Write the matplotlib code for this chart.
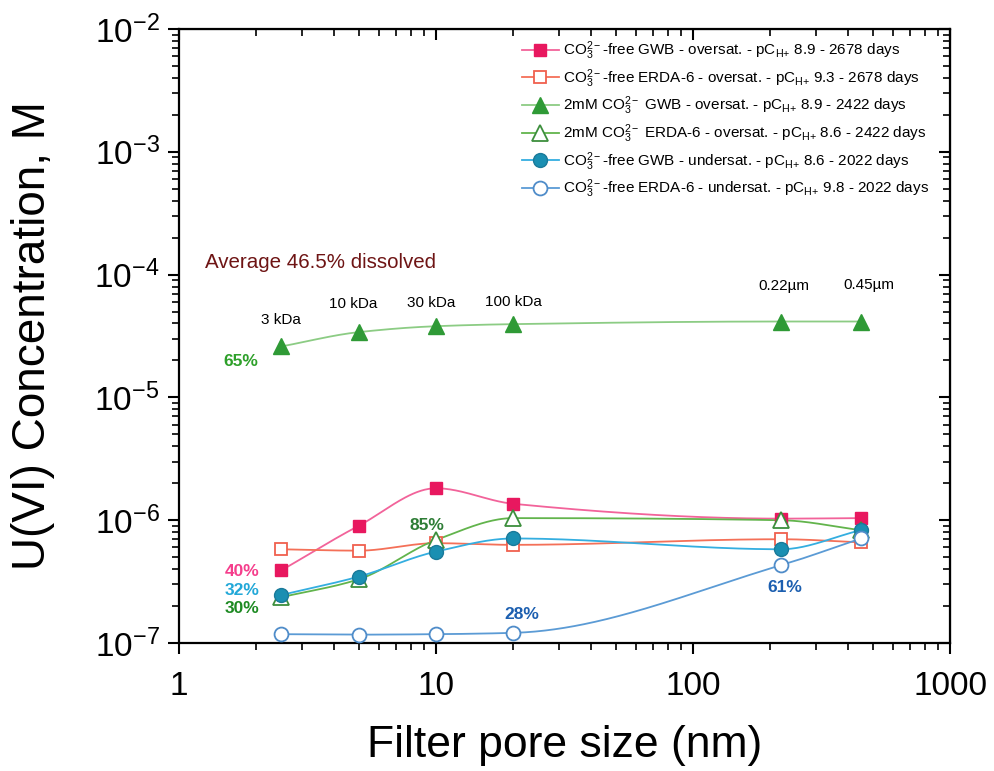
import matplotlib
matplotlib.use("Agg")
import matplotlib.pyplot as plt
import matplotlib.ticker as mticker
import numpy as np

plt.rcParams["font.family"] = ["Liberation Sans", "DejaVu Sans"]
plt.rcParams["mathtext.fontset"] = "custom"
plt.rcParams["mathtext.rm"] = "Liberation Sans"
plt.rcParams["mathtext.it"] = "Liberation Sans:italic"
plt.rcParams["mathtext.bf"] = "Liberation Sans:bold"
plt.rcParams["axes.unicode_minus"] = False

# filter pore sizes (nm): 3 kDa, 10 kDa, 30 kDa, 100 kDa, 0.22 um, 0.45 um
pore_nm = [2.5, 5, 10, 20, 220, 450]
pore_names = ["3 kDa", "10 kDa", "30 kDa", "100 kDa", "0.22µm", "0.45µm"]

# U(VI) concentration, M
gwb_free_over = [3.9e-7, 9.0e-7, 1.82e-6, 1.36e-6, 1.03e-6, 1.04e-6]
erda_free_over = [5.8e-7, 5.65e-7, 6.5e-7, 6.3e-7, 7.0e-7, 6.6e-7]
gwb_2mm_over = [2.6e-5, 3.4e-5, 3.8e-5, 3.95e-5, 4.15e-5, 4.15e-5]
erda_2mm_over = [2.36e-7, 3.3e-7, 6.9e-7, 1.04e-6, 1.0e-6, 8.3e-7]
gwb_free_under = [2.46e-7, 3.47e-7, 5.55e-7, 7.1e-7, 5.8e-7, 8.3e-7]
erda_free_under = [1.18e-7, 1.17e-7, 1.18e-7, 1.21e-7, 4.3e-7, 7.1e-7]

sub = r"pC$_{\mathrm{H}{+}}$"
labels = [
    r"CO$_3^{2-}$-free GWB - oversat. - " + sub + " 8.9 - 2678 days",
    r"CO$_3^{2-}$-free ERDA-6 - oversat. - " + sub + " 9.3 - 2678 days",
    r"2mM CO$_3^{2-}$ GWB - oversat. - " + sub + " 8.9 - 2422 days",
    r"2mM CO$_3^{2-}$ ERDA-6 - oversat. - " + sub + " 8.6 - 2422 days",
    r"CO$_3^{2-}$-free GWB - undersat. - " + sub + " 8.6 - 2022 days",
    r"CO$_3^{2-}$-free ERDA-6 - undersat. - " + sub + " 9.8 - 2022 days",
]


def pchip_curve(x, y, n=300):
    # smooth monotone curve through the points, in log-log space
    lx, ly = np.log10(x), np.log10(y)
    h = np.diff(lx)
    d = np.diff(ly) / h
    m = np.zeros_like(ly)
    m[0], m[-1] = d[0], d[-1]
    for k in range(1, len(lx) - 1):
        if d[k - 1] * d[k] > 0:
            w1 = 2 * h[k] + h[k - 1]
            w2 = h[k] + 2 * h[k - 1]
            m[k] = (w1 + w2) / (w1 / d[k - 1] + w2 / d[k])
    xs = np.linspace(lx[0], lx[-1], n)
    idx = np.clip(np.searchsorted(lx, xs) - 1, 0, len(lx) - 2)
    t = (xs - lx[idx]) / h[idx]
    h00 = 2 * t**3 - 3 * t**2 + 1
    h10 = t**3 - 2 * t**2 + t
    h01 = -2 * t**3 + 3 * t**2
    h11 = t**3 - t**2
    ys = h00 * ly[idx] + h10 * h[idx] * m[idx] + h01 * ly[idx + 1] + h11 * h[idx] * m[idx + 1]
    return 10**xs, 10**ys


fig = plt.figure(figsize=(9.95, 7.71), dpi=100)
ax = fig.add_axes([0.1799, 0.166, 0.7749, 0.7964])
ax.set_xscale("log")
ax.set_yscale("log")
ax.set_xlim(1, 1000)
ax.set_ylim(1e-7, 1e-2)

styles = [
    (gwb_free_over, "#f2639a", dict(marker="s", ms=9, mfc="#e8185f", mec="#e8185f")),
    (erda_free_over, "#f47058", dict(marker="s", ms=9, mfc="white", mec="#f0604e", mew=1.3)),
    (gwb_2mm_over, "#8ccc84", dict(marker="^", ms=11, mfc="#2f9a36", mec="#2f9a36")),
    (erda_2mm_over, "#62b44c", dict(marker="^", ms=11, mfc="white", mec="#3d8f3d", mew=1.3)),
    (gwb_free_under, "#34aee0", dict(marker="o", ms=10, mfc="#1a8fb2", mec="#1a7a9a")),
    (erda_free_under, "#5b9bd5", dict(marker="o", ms=10, mfc="white", mec="#4f8cc9", mew=1.3)),
]

handles = []
for (vals, lc, mk), lab in zip(styles, labels):
    cx, cy = pchip_curve(pore_nm, vals)
    ax.plot(cx, cy, color=lc, lw=1.3, zorder=2)
    ax.plot(pore_nm, vals, ls="none", zorder=3, **mk)
    h, = ax.plot([], [], color=lc, lw=1.3, label=lab, **mk)
    handles.append(h)

leg = ax.legend(handles=handles, loc="upper right", bbox_to_anchor=(0.985, 0.998),
                frameon=False, fontsize=11, handlelength=2.4, handletextpad=0.3,
                labelspacing=0.33, borderaxespad=0.2)

# pore-size names above the 2mM GWB points
offs = [(0, 26), (-5, 28), (-5, 23), (0, 22), (3, 36), (8, 37)]
for x, v, name, o in zip(pore_nm, gwb_2mm_over, pore_names, offs):
    ax.annotate(name, (x, v), textcoords="offset pixels", xytext=o,
                ha="center", va="center", fontsize=11)

ax.text(0.034, 0.62, "Average 46.5% dissolved", transform=ax.transAxes,
        fontsize=14.8, color="#6e1414", va="center", ha="left")

pct = [
    ("65%", 0.080, 0.458, "#2ea02a"),
    ("40%", 0.082, 0.116, "#f53e8c"),
    ("32%", 0.082, 0.086, "#22a8d8"),
    ("30%", 0.082, 0.057, "#1d8a22"),
    ("85%", 0.322, 0.192, "#2e7d36"),
    ("28%", 0.444, 0.047, "#1c5fb0"),
    ("61%", 0.786, 0.090, "#1c5fb0"),
]
for s, xf, yf, c in pct:
    ax.text(xf, yf, s, transform=ax.transAxes, fontsize=12.5, weight="bold",
            color=c, ha="center", va="center")

ax.set_xlabel("Filter pore size (nm)", fontsize=32)
ax.xaxis.set_label_coords(0.5, -0.134)
ax.set_ylabel("U(VI) Concentration, M", fontsize=33, labelpad=28)

ax.xaxis.set_major_locator(mticker.FixedLocator([1, 10, 100, 1000]))
ax.xaxis.set_major_formatter(mticker.FuncFormatter(lambda v, _: f"{v:g}"))
ax.xaxis.set_minor_formatter(mticker.NullFormatter())

for sp in ax.spines.values():
    sp.set_linewidth(1.6)
ax.tick_params(which="major", direction="out", length=8, width=1.5, labelsize=24)
ax.tick_params(axis="x", which="major", pad=12)
ax.tick_params(axis="y", which="major", pad=6)
ax.tick_params(which="minor", direction="out", length=5, width=1.2)

# top and right: inward ticks, no labels
top = ax.secondary_xaxis("top", functions=(lambda x: x, lambda x: x))
top.tick_params(which="major", direction="in", length=8, width=1.5, labeltop=False)
top.tick_params(which="minor", direction="in", length=5, width=1.2)
right = ax.secondary_yaxis("right", functions=(lambda y: y, lambda y: y))
right.tick_params(which="major", direction="in", length=8, width=1.5, labelright=False)
right.tick_params(which="minor", direction="in", length=5, width=1.2)

fig.savefig("out.png", dpi=100)
